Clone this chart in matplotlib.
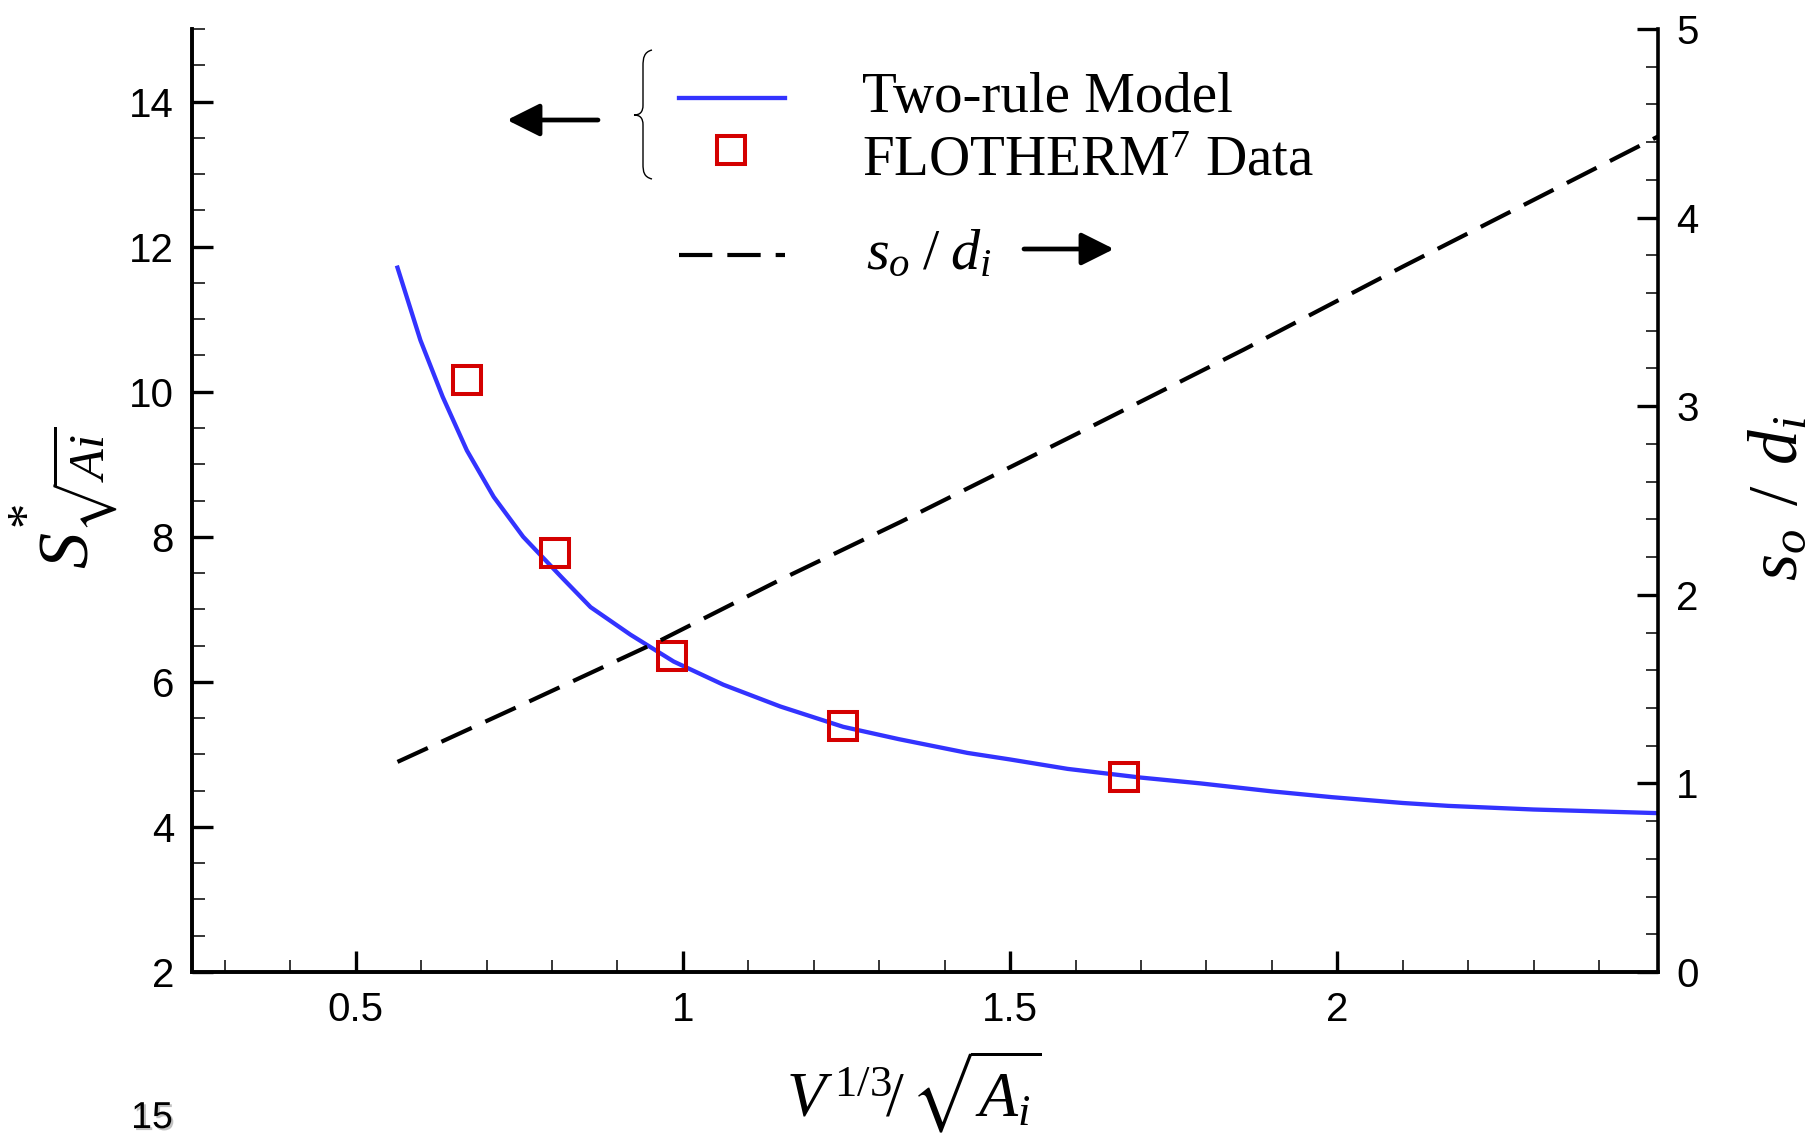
import numpy as np
import matplotlib
matplotlib.use("Agg")
import matplotlib.pyplot as plt
from matplotlib.lines import Line2D
from matplotlib.path import Path
from matplotlib.patches import PathPatch
import matplotlib.patheffects as pe
from matplotlib.ticker import MultipleLocator, FixedLocator

plt.rcParams['mathtext.fontset'] = 'custom'
plt.rcParams['mathtext.rm'] = 'Liberation Serif'
plt.rcParams['mathtext.it'] = 'Liberation Serif:italic'
plt.rcParams['mathtext.bf'] = 'Liberation Serif:bold'
plt.rcParams['mathtext.fallback'] = 'stix'
plt.rcParams['font.family'] = ['Liberation Sans', 'DejaVu Sans']

# ---- data ----
model_x = [0.564, 0.599, 0.633, 0.670, 0.711, 0.756, 0.816, 0.859, 0.920, 0.986,
           1.062, 1.149, 1.245, 1.33, 1.435, 1.50, 1.588, 1.70, 1.791, 1.90, 1.992,
           2.10, 2.17, 2.30, 2.49]
model_y = [11.71, 10.71, 9.93, 9.19, 8.55, 8.00, 7.43, 7.03, 6.65, 6.28,
           5.96, 5.66, 5.38, 5.21, 5.02, 4.93, 4.80, 4.68, 4.60, 4.49, 4.41,
           4.33, 4.29, 4.24, 4.19]
data_x = [0.670, 0.805, 0.984, 1.245, 1.674]
data_y = [10.16, 7.78, 6.36, 5.39, 4.69]
ratio_x = [0.564, 0.75, 0.961, 1.149, 1.333, 1.60, 1.857, 2.10, 2.49]
ratio_y = [1.114, 1.41, 1.75, 2.08, 2.387, 2.85, 3.30, 3.74, 4.43]
x_ticks = [0.5, 1, 1.5, 2]
x_ticklabels = ['0.5', '1', '1.5', '2']
yl_ticks = [2, 4, 6, 8, 10, 12, 14]
yr_ticks = [0, 1, 2, 3, 4, 5]

W, H = 1815, 1137
fig = plt.figure(figsize=(W / 100, H / 100), dpi=100)
L, R, B, T = 192 / W, 1658 / W, 1 - 972 / H, 1 - 29 / H
ax = fig.add_axes([L, B, R - L, T - B])
ax2 = ax.twinx()

blue = '#3333ff'
red = '#d40000'
dash_pat = (8.0, 3.6)

ax.plot(model_x, model_y, color=blue, lw=3.1, zorder=3)
ax.plot(data_x, data_y, ls='none', marker='s', ms=19.5, mfc='none', mec=red, mew=2.9, zorder=4)
ax2.plot(ratio_x, ratio_y, color='black', lw=3.0, dashes=dash_pat, zorder=3)

ax.set_xlim(0.25, 2.49)
ax.set_ylim(2, 15)
ax2.set_ylim(0, 5)

ax.xaxis.set_major_locator(FixedLocator(x_ticks))
ax.set_xticklabels(x_ticklabels)
ax.xaxis.set_minor_locator(MultipleLocator(0.1))
ax.yaxis.set_major_locator(FixedLocator(yl_ticks))
ax.yaxis.set_minor_locator(MultipleLocator(0.5))
ax2.yaxis.set_major_locator(FixedLocator(yr_ticks))
ax2.yaxis.set_minor_locator(MultipleLocator(0.2))

for a in (ax, ax2):
    a.spines['top'].set_visible(False)
    for s in a.spines.values():
        s.set_linewidth(2.6)
ax.spines['right'].set_visible(False)

ax.tick_params(axis='both', which='major', direction='in', length=15, width=2.4,
               labelsize=29, top=False, right=False)
ax.tick_params(axis='both', which='minor', direction='in', length=9, width=1.1,
               top=False, right=False)
ax.tick_params(axis='x', which='major', pad=14)
ax.tick_params(axis='y', which='major', pad=13)
ax2.tick_params(axis='y', which='major', direction='in', length=15, width=2.4,
                labelsize=29, pad=13)
ax2.tick_params(axis='y', which='minor', direction='in', length=9, width=1.1)

# axis labels
fig.text(64 / W, 1 - 498 / H, r'$S^{*}_{\sqrt{Ai}}$', rotation=90, fontsize=52,
         ha='center', va='center')
fig.text(914 / W, 1 - 1092 / H, r'$V^{\,\mathit{1/3}}\!/\,\sqrt{A_i}$', fontsize=46,
         ha='center', va='center')
fig.text(1778 / W, 1 - 498 / H, r'$s_o\;\,/\;\,d_i$', rotation=90, fontsize=50,
         ha='center', va='center')

# legend (manually drawn)
def fx(px):
    return px / W

def fy(py):
    return 1 - py / H

fig.add_artist(Line2D([fx(679), fx(785)], [fy(98), fy(98)], color=blue, lw=3.1,
                      transform=fig.transFigure))
fig.add_artist(Line2D([fx(731)], [fy(150)], ls='none', marker='s', ms=19.5, mfc='none',
                      mec=red, mew=2.9, transform=fig.transFigure))
fig.add_artist(Line2D([fx(679), fx(785)], [fy(255), fy(255)], color='black', lw=3.0,
                      dashes=dash_pat, transform=fig.transFigure))
fig.text(fx(862), fy(98), 'Two-rule Model', family='Liberation Serif', fontsize=41,
         ha='left', va='center')
fig.text(fx(862), fy(162), r'FLOTHERM$^{7}$ Data', family='Liberation Serif', fontsize=41,
         ha='left', va='center')
fig.text(fx(866), fy(254), r'$s_o\;/\;d_i$', fontsize=42, ha='left', va='center')

# arrows
arrow_kw = dict(arrowstyle='-|>,head_length=1.0,head_width=0.5', color='black',
                lw=3.4, mutation_scale=20, shrinkA=0, shrinkB=0)
ax.annotate('', xy=(fx(507), fy(120)), xytext=(fx(598), fy(120)),
            xycoords='figure fraction', textcoords='figure fraction', arrowprops=arrow_kw)
ax.annotate('', xy=(fx(1114), fy(249)), xytext=(fx(1024), fy(249)),
            xycoords='figure fraction', textcoords='figure fraction', arrowprops=arrow_kw)

# brace
verts = [(652, 50), (644, 52), (643, 58), (643, 66),
         (643, 105),
         (643, 112), (640, 115), (634, 115),
         (640, 115), (643, 118), (643, 125),
         (643, 164),
         (643, 172), (644, 177), (652, 179)]
codes = [Path.MOVETO, Path.CURVE4, Path.CURVE4, Path.CURVE4,
         Path.LINETO,
         Path.CURVE4, Path.CURVE4, Path.CURVE4,
         Path.CURVE4, Path.CURVE4, Path.CURVE4,
         Path.LINETO,
         Path.CURVE4, Path.CURVE4, Path.CURVE4]
brace = Path([(fx(x), fy(y)) for x, y in verts], codes)
fig.add_artist(PathPatch(brace, fc='none', ec='black', lw=1.0, transform=fig.transFigure))

# page number
fig.text(fx(152), fy(1118), '15', fontsize=27, ha='center', va='center',
         path_effects=[pe.withSimplePatchShadow(offset=(1.5, -1.5), shadow_rgbFace='#999999', alpha=0.6)])

fig.savefig('out.png', dpi=100)
